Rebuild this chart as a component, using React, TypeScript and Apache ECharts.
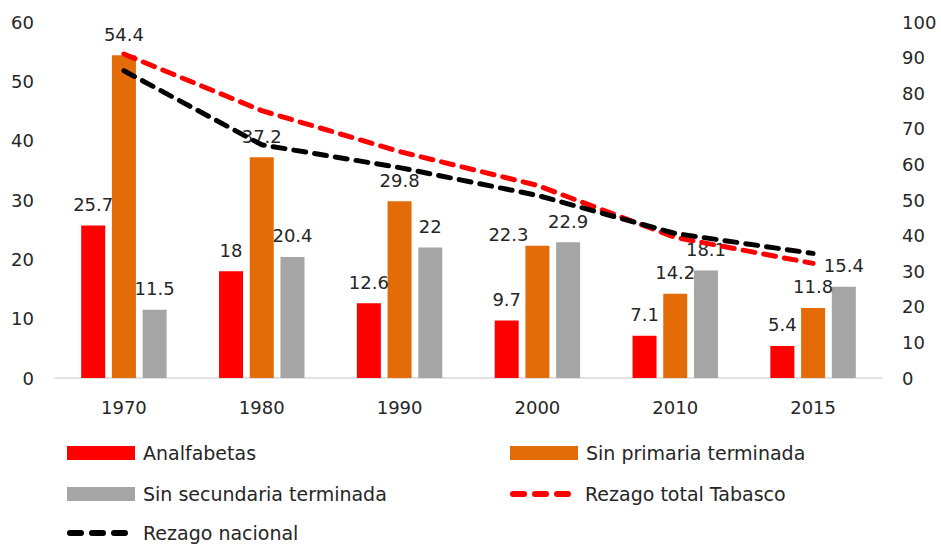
import React, { useEffect, useRef } from "react";
import * as echarts from "echarts";

const categories = ["1970", "1980", "1990", "2000", "2010", "2015"];
const analfabetas = [25.7, 18, 12.6, 9.7, 7.1, 5.4];
const sinPrimaria = [54.4, 37.2, 29.8, 22.3, 14.2, 11.8];
const sinSecundaria = [11.5, 20.4, 22, 22.9, 18.1, 15.4];
const rezagoTabasco = [91.0, 75.1, 63.6, 54.1, 39.5, 32.2];
const rezagoNacional = [86.3, 65.5, 59.1, 51.3, 40.6, 35.0];

const FONT = "DejaVu Sans";
const TXT = "#262626";

const DASH_ICON =
  "path://M3,0 h11 a3,3 0 0 1 0,6 h-11 a3,3 0 0 1 0,-6 z " +
  "M25,0 h11 a3,3 0 0 1 0,6 h-11 a3,3 0 0 1 0,-6 z " +
  "M47,0 h11 a3,3 0 0 1 0,6 h-11 a3,3 0 0 1 0,-6 z";

export default function App() {
  const ref = useRef<HTMLDivElement>(null);
  useEffect(() => {
    const chart = echarts.init(ref.current!, null, { renderer: "svg" });
    const barLabel = {
      show: true,
      position: "top" as const,
      distance: 12,
      color: TXT,
      fontSize: 18,
      fontFamily: FONT,
    };
    const legendText = (pad: number) => ({
      color: TXT,
      fontSize: 19,
      fontFamily: FONT,
      lineHeight: 22,
      padding: [0, 0, 0, pad],
    });
    const dash = [12, 9];
    const primariaData = sinPrimaria.map((v, i) =>
      categories[i] === "2000"
        ? { value: v, label: { offset: [-29, 10] } }
        : v
    );
    const baseLegend = { padding: 0, selectedMode: false };
    chart.setOption({
      animation: false,
      backgroundColor: "#ffffff",
      grid: { left: 55, right: 59, top: 22, bottom: 166 },
      xAxis: {
        type: "category",
        data: categories,
        axisLine: { lineStyle: { color: "#d9d9d9", width: 1.5 } },
        axisTick: { show: false },
        axisLabel: { color: TXT, fontSize: 18, fontFamily: FONT, margin: 20 },
      },
      yAxis: [
        {
          type: "value",
          min: 0,
          max: 60,
          interval: 10,
          splitLine: { show: false },
          axisLine: { show: false },
          axisTick: { show: false },
          axisLabel: { color: TXT, fontSize: 18, fontFamily: FONT, margin: 21 },
        },
        {
          type: "value",
          min: 0,
          max: 100,
          interval: 10,
          position: "right",
          splitLine: { show: false },
          axisLine: { show: false },
          axisTick: { show: false },
          axisLabel: { color: TXT, fontSize: 18, fontFamily: FONT, margin: 20 },
        },
      ],
      legend: [
        {
          ...baseLegend, left: 67, top: 442, itemWidth: 68, itemHeight: 14, icon: "rect",
          data: ["Analfabetas"], textStyle: legendText(3),
        },
        {
          ...baseLegend, left: 510, top: 442, itemWidth: 68, itemHeight: 14, icon: "rect",
          data: ["Sin primaria terminada"], textStyle: legendText(3),
        },
        {
          ...baseLegend, left: 67, top: 483, itemWidth: 68, itemHeight: 14, icon: "rect",
          data: ["Sin secundaria terminada"], textStyle: legendText(3),
        },
        {
          ...baseLegend, left: 510, top: 483, itemWidth: 61, itemHeight: 6, icon: DASH_ICON,
          data: ["Rezago total Tabasco"], textStyle: legendText(9),
        },
        {
          ...baseLegend, left: 67, top: 522, itemWidth: 61, itemHeight: 6, icon: DASH_ICON,
          data: ["Rezago nacional"], textStyle: legendText(10),
        },
      ],
      series: [
        {
          name: "Analfabetas",
          type: "bar",
          data: analfabetas,
          barWidth: 24,
          barGap: "28%",
          itemStyle: { color: "#ff0000" },
          label: barLabel,
        },
        {
          name: "Sin primaria terminada",
          type: "bar",
          data: primariaData,
          barWidth: 24,
          barGap: "28%",
          itemStyle: { color: "#e36c09" },
          label: barLabel,
        },
        {
          name: "Sin secundaria terminada",
          type: "bar",
          data: sinSecundaria,
          barWidth: 24,
          barGap: "28%",
          itemStyle: { color: "#a5a5a5" },
          label: barLabel,
        },
        {
          name: "Rezago total Tabasco",
          type: "line",
          yAxisIndex: 1,
          data: rezagoTabasco,
          symbol: "none",
          z: 10,
          itemStyle: { color: "#ff0000" },
          lineStyle: { color: "#ff0000", width: 5, type: dash, cap: "round" },
        },
        {
          name: "Rezago nacional",
          type: "line",
          yAxisIndex: 1,
          data: rezagoNacional,
          symbol: "none",
          z: 10,
          itemStyle: { color: "#000000" },
          lineStyle: { color: "#000000", width: 5, type: dash, cap: "round" },
        },
      ],
    });
    return () => chart.dispose();
  }, []);
  return <div ref={ref} style={{ width: 941, height: 544, position: "absolute", left: 0, top: 0 }} />;
}
